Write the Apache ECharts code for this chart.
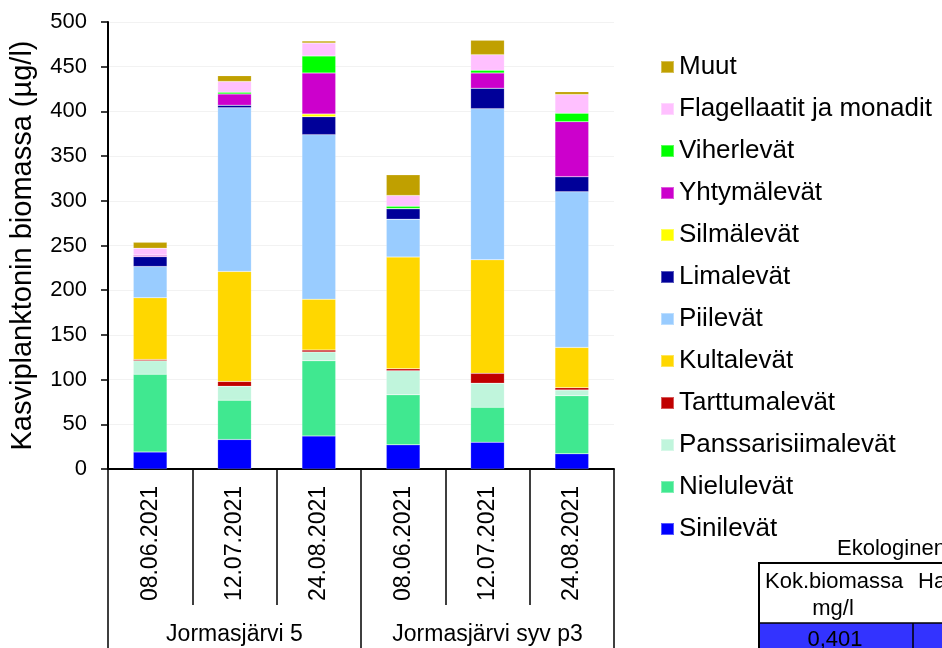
<!DOCTYPE html>
<html>
<head>
<meta charset="utf-8">
<title>Kasviplanktonin biomassa</title>
<script src="https://cdn.jsdelivr.net/npm/echarts@6/dist/echarts.min.js"></script>
<style>
  html, body { margin: 0; padding: 0; background: #fff; }
  #chart { width: 942px; height: 648px; }
</style>
</head>
<body>
<div id="chart"></div>
<script>
// Sampling dates and sites
const dates = ['08.06.2021', '12.07.2021', '24.08.2021', '08.06.2021', '12.07.2021', '24.08.2021'];
const sites = ['Jormasjärvi 5', 'Jormasjärvi syv p3'];

// Y axis range and step
const yMin = 0, yMax = 500, yStep = 50;

// Biomass per algal group (µg/l), stacked from the bottom up
const sinilevat      = [19, 33, 37, 27, 30, 17];
const nielulevat     = [87, 44, 84, 56, 39, 65];
const panssari       = [15, 15.5, 10, 27, 27, 6.5];
const tarttumalevat  = [1.5, 5.5, 2, 2, 11, 2.5];
const kultalevat     = [69, 123, 57, 125, 127, 45];
const piilevat       = [35, 183, 184, 42.5, 169, 174];
const limalevat      = [11, 3, 20, 11.7, 23, 17];
const silmalevat     = [0.3, 0, 3, 0, 0, 0];
const yhtymalevat    = [1.2, 12.5, 46, 0.3, 17, 61.5];
const viherlevat     = [0.5, 2, 19, 2.5, 3, 9.5];
const flagellaatit   = [7.5, 12, 14.5, 12, 17.5, 21];
const muut           = [6.5, 6.5, 2.2, 23, 16, 3];

const groups = [
  { name: 'Sinilevät', data: sinilevat, color: '#0000FF' },
  { name: 'Nielulevät', data: nielulevat, color: '#40E890' },
  { name: 'Panssarisiimalevät', data: panssari, color: '#C0F5DC' },
  { name: 'Tarttumalevät', data: tarttumalevat, color: '#C00000' },
  { name: 'Kultalevät', data: kultalevat, color: '#FFD700' },
  { name: 'Piilevät', data: piilevat, color: '#99CCFF' },
  { name: 'Limalevät', data: limalevat, color: '#000099' },
  { name: 'Silmälevät', data: silmalevat, color: '#FFFF00' },
  { name: 'Yhtymälevät', data: yhtymalevat, color: '#CC00CC' },
  { name: 'Viherlevät', data: viherlevat, color: '#00FF00' },
  { name: 'Flagellaatit ja monadit', data: flagellaatit, color: '#FFC0FF' },
  { name: 'Muut', data: muut, color: '#C0A000' }
];

const FONT = '"Liberation Sans", Arial, sans-serif';
const chart = echarts.init(document.getElementById('chart'), null, { renderer: 'canvas' });

const series = groups.map(g => ({
  name: g.name,
  type: 'bar',
  stack: 'biomassa',
  barWidth: '40%',
  data: g.data,
  itemStyle: { color: g.color, borderColor: 'rgba(255,255,255,0.35)', borderWidth: 0.5 },
  emphasis: { disabled: true }
}));

chart.setOption({
  backgroundColor: '#fff',
  animation: false,
  textStyle: { fontFamily: FONT, color: '#000' },
  grid: { left: 108, right: 328, top: 22, bottom: 179, containLabel: false },
  legend: {
    orient: 'vertical',
    left: 655,
    top: 49,
    itemWidth: 13,
    itemHeight: 12,
    itemGap: 16,
    icon: 'rect',
    selectedMode: false,
    data: groups.map(g => g.name).reverse(),
    textStyle: { fontFamily: FONT, fontSize: 26, lineHeight: 26, color: '#000' }
  },
  xAxis: [
    {
      type: 'category',
      data: dates,
      position: 'bottom',
      boundaryGap: true,
      axisLine: { show: true, lineStyle: { color: '#000', width: 2 } },
      axisTick: { show: true, length: 136, alignWithLabel: false, lineStyle: { color: '#000', width: 1.5 } },
      axisLabel: { rotate: 90, margin: 17, fontSize: 23, color: '#000', fontFamily: FONT, interval: 0 },
      splitLine: { show: false }
    },
    {
      type: 'category',
      data: sites,
      position: 'bottom',
      offset: 136,
      boundaryGap: true,
      axisLine: { show: false },
      axisTick: { show: true, length: 50, alignWithLabel: false, lineStyle: { color: '#000', width: 1.5 } },
      axisLabel: { margin: 18, fontSize: 23, color: '#000', fontFamily: FONT, interval: 0 },
      splitLine: { show: false }
    }
  ],
  yAxis: {
    type: 'value',
    min: yMin,
    max: yMax,
    interval: yStep,
    name: 'Kasviplanktonin biomassa (µg/l)',
    nameLocation: 'middle',
    nameGap: 71,
    nameRotate: 90,
    nameTextStyle: { fontSize: 29, color: '#000', fontFamily: FONT },
    axisLine: { show: true, lineStyle: { color: '#000', width: 2 } },
    axisTick: { show: true, length: 7, lineStyle: { color: '#000', width: 1.5 } },
    axisLabel: { fontSize: 22, margin: 21, color: '#000', fontFamily: FONT },
    splitLine: { show: true, lineStyle: { color: '#f2f2f2', width: 1 } }
  },
  series: series,
  graphic: [
    // status table in the lower right corner
    { type: 'rect', z: 100, shape: { x: 655, y: 536, width: 287, height: 112 }, style: { fill: '#fff' } },
    { type: 'text', z: 101, style: { x: 837, y: 549, text: 'Ekologinen', font: '22px ' + FONT, fill: '#000', verticalAlign: 'middle' } },
    { type: 'rect', z: 101, shape: { x: 760, y: 623, width: 182, height: 25 }, style: { fill: '#3333FF' } },
    { type: 'line', z: 102, shape: { x1: 759, y1: 563, x2: 942, y2: 563 }, style: { stroke: '#000', lineWidth: 2 } },
    { type: 'line', z: 102, shape: { x1: 759, y1: 562, x2: 759, y2: 648 }, style: { stroke: '#000', lineWidth: 2 } },
    { type: 'line', z: 102, shape: { x1: 759, y1: 623, x2: 942, y2: 623 }, style: { stroke: '#000', lineWidth: 1.5 } },
    { type: 'line', z: 102, shape: { x1: 913, y1: 623, x2: 913, y2: 648 }, style: { stroke: '#000', lineWidth: 1.5 } },
    { type: 'text', z: 103, style: { x: 765, y: 582, text: 'Kok.biomassa', font: '22px ' + FONT, fill: '#000', verticalAlign: 'middle' } },
    { type: 'text', z: 103, style: { x: 918, y: 582, text: 'Hajoitus', font: '22px ' + FONT, fill: '#000', verticalAlign: 'middle' } },
    { type: 'text', z: 103, style: { x: 833, y: 609, text: 'mg/l', font: '22px ' + FONT, fill: '#000', align: 'center', verticalAlign: 'middle' } },
    { type: 'text', z: 103, style: { x: 835, y: 640, text: '0,401', font: '22px ' + FONT, fill: '#000', align: 'center', verticalAlign: 'middle' } }
  ]
});
</script>
</body>
</html>
